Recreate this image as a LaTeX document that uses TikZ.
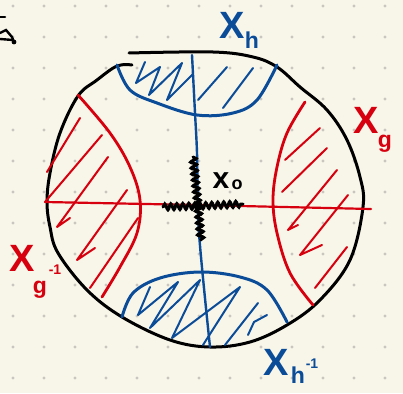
\documentclass[tikz,border=0pt]{standalone}
\usepackage{fontspec}
\setmainfont{Liberation Sans}
\usetikzlibrary{decorations.pathmorphing}
\definecolor{paper}{HTML}{F8F5E9}
\definecolor{griddot}{HTML}{C8C6BE}
\definecolor{pblue}{HTML}{0B4C99}
\definecolor{pred}{HTML}{D6000E}
\tikzset{
  outline/.style={line width=3pt,black,line cap=round,line join=round},
  bluecurve/.style={line width=3pt,pblue,line cap=round,line join=round},
  redcurve/.style={line width=2.8pt,pred,line cap=round,line join=round},
  bluehatch/.style={line width=2pt,pblue,line cap=round,line join=round},
  redhatch/.style={line width=2pt,pred,line cap=round,line join=round},
  squig/.style={line width=3pt,black,line cap=round,decorate,decoration={snake,amplitude=3pt,segment length=6pt}},
  biglab/.style={font=\bfseries\fontsize{38}{38}\selectfont,inner sep=0pt},
  sublab/.style={font=\bfseries\fontsize{23}{23}\selectfont,inner sep=0pt},
  suplab/.style={font=\bfseries\fontsize{14}{14}\selectfont,inner sep=0pt}
}
\begin{document}
\begin{tikzpicture}[x=1pt,y=-1pt]
\useasboundingbox (0,0) rectangle (403,393);
\fill[paper] (0,0) rectangle (403,393);
% dotted grid
\foreach \i in {0,...,12}{
  \foreach \j in {0,...,12}{
    \fill[griddot] (13+31*\i,6+31.0*\j) circle (1.6pt);
  }
}
% top-left cut-off glyph
\draw[line width=2.6pt,black,line cap=round] (0,17) -- (5,17);
\draw[line width=2.4pt,black,line cap=round] (0,33) -- (6,30) -- (12,37) -- (14,42);
\draw[line width=2.4pt,black,line cap=round] (0,39) -- (13,40);
\fill (14,42) circle (2.4pt);

% outer black outline
\draw[outline] plot[smooth,tension=0.6] coordinates {
 (132,65) (117,66) (97,80) (78,96) (60,133) (50,173) (47,202) (50,227) (58,253)
 (87,290) (122,317) (170,340) (210,347) (250,342) (287,325) (320,300) (350,260)
 (363,207) (360,177) (347,140) (327,110) (300,87) (277,67) (253,57) (213,52) (129,53)};

% red left arc and right arc
\draw[redcurve] plot[smooth,tension=0.6] coordinates {
 (78,95) (110,133) (130,167) (140,200) (137,233) (120,267) (102,297)};
\draw[redcurve] plot[smooth,tension=0.6] coordinates {
 (305,102) (287,133) (277,167) (273,200) (277,233) (290,273) (313,305)};
% red horizontal
\draw[line width=2.2pt,pred,line cap=round] (45,202) -- (197,205) -- (371,209);
% red hatching left
\draw[redhatch] (80,118) -- (47,172);
\draw[redhatch] (102,135) -- (45,202);
\draw[redhatch] (108,157) -- (57,227) -- (70,218);
\draw[redhatch] (127,190) -- (77,260) -- (95,248);
\draw[redhatch] (138,218) -- (90,288);
% red hatching right
\draw[redhatch] (320,128) -- (285,160);
\draw[redhatch] (327,148) -- (282,192);
\draw[redhatch] (337,170) -- (288,230) -- (298,225);
\draw[redhatch] (348,195) -- (300,255) -- (322,245);
\draw[redhatch] (347,247) -- (315,288);

% blue top arc
\draw[bluecurve] plot[smooth,tension=0.6] coordinates {
 (117,65) (130,90) (157,103) (197,115) (233,113) (257,100) (277,65)};
% blue bottom arc
\draw[bluecurve] plot[smooth,tension=0.6] coordinates {
 (122,317) (133,293) (160,278) (200,272) (240,277) (267,290) (287,322)};
% blue vertical
\draw[line width=2.4pt,pblue,line cap=round] plot[smooth,tension=0.5] coordinates {
 (192,55) (195,113) (197,153) (199,233) (210,347)};
% blue hatching top
\draw[bluehatch] (145,62) -- (136,83) -- (160,67) -- (149,95) -- (182,63) -- (167,100) -- (193,74);
\draw[bluehatch] (198,100) -- (227,67);
\draw[bluehatch] (223,108) -- (253,68);
% blue hatching bottom
\draw[bluehatch] (150,287) -- (138,315) -- (178,282) -- (150,328) -- (200,280) -- (172,338) -- (240,287) -- (203,345);
\draw[bluehatch] (225,345) -- (258,303);
\draw[bluehatch] (248,335) -- (254,322) -- (267,315);

% black squiggles and base point
\coordinate (ctr) at (198,206);
\coordinate (sqT) at (193,157);
\coordinate (sqB) at (201,240);
\coordinate (sqL) at (163,207);
\coordinate (sqR) at (243,204);
\draw[squig] (sqT) -- (ctr);
\draw[squig] (ctr) -- (sqB);
\draw[squig] (sqL) -- (ctr);
\draw[squig] (ctr) -- (sqR);
\fill (ctr) circle (4.5pt);
\node[font=\bfseries\fontsize{30}{30}\selectfont,inner sep=0pt,anchor=center] (x0) at (221,181) {x};
\node[font=\bfseries\fontsize{18}{18}\selectfont,inner sep=0pt,anchor=center] (x0sub) at (237,185) {o};

% labels
\node[biglab,pblue] (Xh) at (232,25) {X};
\node[sublab,pblue] (Xhs) at (252,40) {h};
\node[biglab,pred] (Xg) at (366,120) {X};
\node[sublab,pred] (Xgs) at (385,144) {g};
\node[biglab,pred] (Xgi) at (22,258) {X};
\node[sublab,pred] (Xgis) at (40,290) {g};
\node[suplab,pred] (Xgisup) at (55,270) {-1};
\node[biglab,pblue] (Xhi) at (276,362) {X};
\node[sublab,pblue] (Xhis) at (298,375) {h};
\node[suplab,pblue] (Xhisup) at (312,364) {-1};
\end{tikzpicture}
\end{document}
